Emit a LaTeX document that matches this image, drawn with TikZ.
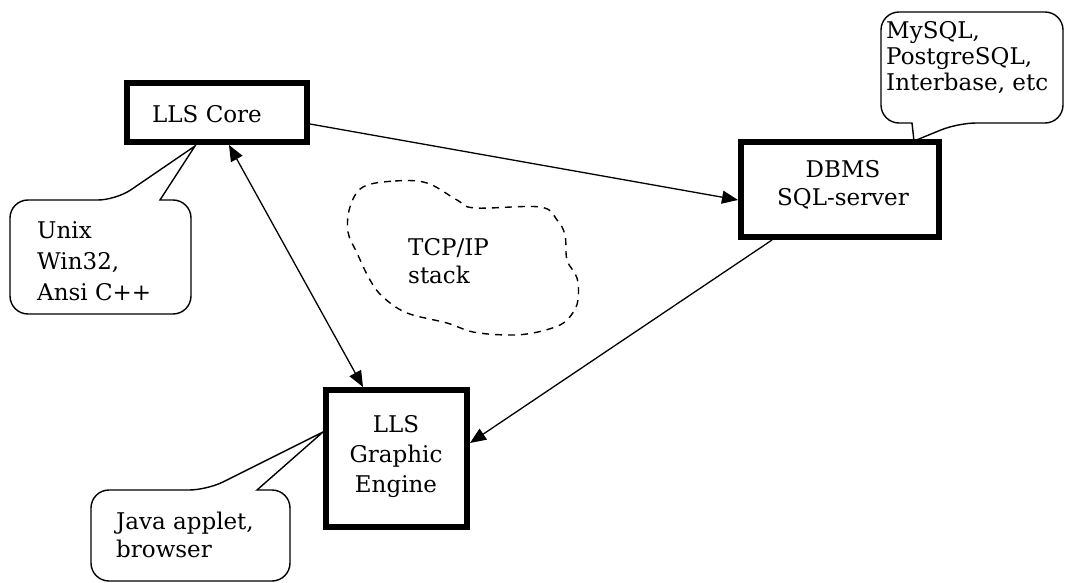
\documentclass[tikz,border=0pt]{standalone}
\usepackage{fontspec}
\setmainfont{DejaVu Serif}
\usetikzlibrary{arrows.meta}
\tikzset{
  box/.style={draw, line width=6pt, inner sep=0pt},
  lbl/.style={inner sep=0pt, font=\fontsize{23}{30}\selectfont},
  arr/.style={line width=1.3pt, -{Triangle[length=16pt,width=13pt]}},
  darr/.style={line width=1.3pt, {Triangle[length=16pt,width=13pt]}-{Triangle[length=16pt,width=13pt]}},
  callout/.style={draw, line width=1.4pt, rounded corners=18pt},
  cloud/.style={draw, line width=1.4pt, dash pattern=on 7pt off 6pt}
}
\begin{document}
\begin{tikzpicture}[x=1pt,y=-1pt]
\useasboundingbox[fill=white] (0,0) rectangle (1066,583);

% boxes
\node[box, minimum width=180pt, minimum height=59pt] (core) at (217,112.5) {};
\node[box, minimum width=198pt, minimum height=95pt] (dbms) at (840,189.5) {};
\node[box, minimum width=141pt, minimum height=137pt] (gfx) at (396.5,458.5) {};

% box texts (base anchor = baseline of the last line)
\node[lbl, anchor=base west] (coret) at (152,123) {LLS Core};
\node[lbl, anchor=base, align=center, font=\fontsize{23}{28}\selectfont] (dbmst) at (843,205) {DBMS\\SQL-server};
\node[lbl, anchor=base, align=center, font=\fontsize{23}{30}\selectfont] (gfxt) at (396,492) {LLS\\Graphic\\Engine};

% callouts
\draw[callout] (116,200) [sharp corners] -- (195,146) -- (160,200) [rounded corners=18pt] -- (191,200) -- (191,314) -- (10,314) -- (10,200) -- cycle;
\node[lbl, anchor=base west, align=left, font=\fontsize{23}{31}\selectfont] (unixt) at (37,300) {Unix\\Win32,\\Ansi C++};

\draw[callout] (207,490) [sharp corners] -- (323,432) -- (257,490) [rounded corners=18pt] -- (290,490) -- (290,581) -- (91,581) -- (91,490) -- cycle;
\node[lbl, anchor=base west, align=left, font=\fontsize{23}{28}\selectfont] (javat) at (116,557) {Java applet,\\browser};

\draw[callout] (958,123) [sharp corners] -- (914,141) -- (912,123) [rounded corners=18pt] -- (881,123) -- (881,12) -- (1063,12) -- (1063,123) -- cycle;
\node[lbl, anchor=base west, align=left, font=\fontsize{23}{26}\selectfont] (sqlt) at (886,91) {MySQL,\\PostgreSQL,\\Interbase, etc};

% cloud
\draw[cloud] plot[smooth cycle, tension=0.6] coordinates {
 (363,187) (395,181) (427,183) (457,200) (475,208) (540,207) (557,220) (565,235)
 (567,260) (577,278) (578,300) (572,314) (560,325) (533,333) (507,335) (473,332)
 (447,323) (407,313) (383,297) (370,280) (357,253) (348,232) (350,207)};
\node[lbl, anchor=base west, align=left, font=\fontsize{23}{28}\selectfont] (tcpt) at (408,283) {TCP/IP\\stack};

% connectors
\draw[arr] ([yshift=-11.5pt]core.east) -- ([yshift=-10.5pt]dbms.west);
\draw[darr] ([xshift=12pt]core.south) -- ([xshift=-33.5pt]gfx.north);
\draw[arr] ([xshift=-68pt]dbms.south) -- ([yshift=15.5pt]gfx.east);
\end{tikzpicture}
\end{document}
